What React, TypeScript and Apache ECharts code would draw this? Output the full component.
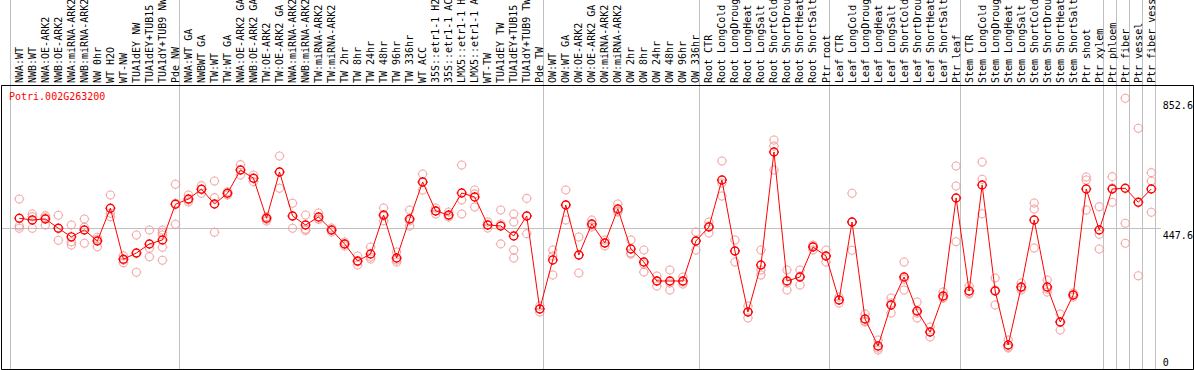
import React, { useEffect, useRef } from 'react';
import * as echarts from 'echarts';

const chartTitle = 'Potri.002G263200';

const categories = [
  'NWA:WT', 'NWB:WT', 'NWA:OE-ARK2', 'NWB:OE-ARK2', 'NWA:miRNA-ARK2', 'NWB:miRNA-ARK2', 'NW 0hr', 'WT H2O', 'WT-NW',
  'TUA1dEY NW', 'TUA1dEY+TUB15 NW', 'TUA1dY+TUB9 NW', 'Pde NW',
  'NWA:WT GA', 'NWBWT GA', 'TW:WT', 'TW:WT GA', 'NWA:OE-ARK2 GA', 'NWB:OE-ARK2 GA', 'TW:OE-ARK2', 'TW:OE-ARK2 GA',
  'NWA:miRNA-ARK2 GA', 'NWB:miRNA-ARK2 GA', 'TW:miRNA-ARK2', 'TW:miRNA-ARK2 GA', 'TW 2hr', 'TW 8hr', 'TW 24hr',
  'TW 48hr', 'TW 96hr', 'TW 336hr', 'WT ACC', '35S::etr1-1 H2O', '35S::etr1-1 ACC', 'LMX5::etr1-1 H2O',
  'LMX5::etr1-1 ACC', 'WT-TW', 'TUA1dEY TW', 'TUA1dEY+TUB15 TW', 'TUA1dY+TUB9 TW', 'Pde TW',
  'OW:WT', 'OW:WT GA', 'OW:OE-ARK2', 'OW:OE-ARK2 GA', 'OW:miRNA-ARK2', 'OW:miRNA-ARK2 GA', 'OW 2hr', 'OW 8hr',
  'OW 24hr', 'OW 48hr', 'OW 96hr', 'OW 336hr',
  'Root CTR', 'Root LongCold', 'Root LongDrought', 'Root LongHeat', 'Root LongSalt', 'Root ShortCold',
  'Root ShortDrought', 'Root ShortHeat', 'Root ShortSalt', 'Ptr root',
  'Leaf CTR', 'Leaf LongCold', 'Leaf LongDrought', 'Leaf LongHeat', 'Leaf LongSalt', 'Leaf ShortCold',
  'Leaf ShortDrought', 'Leaf ShortHeat', 'Leaf ShortSalt', 'Ptr leaf',
  'Stem CTR', 'Stem LongCold', 'Stem LongDrought', 'Stem LongHeat', 'Stem LongSalt', 'Stem ShortCold',
  'Stem ShortDrought', 'Stem ShortHeat', 'Stem ShortSalt', 'Ptr shoot', 'Ptr xylem',
  'Ptr phloem', 'Ptr fiber', 'Ptr vessel', 'Ptr fiber vessel',
];

// indices of categories that start a new group (a grey divider is drawn on their left edge)
const groupStarts = [0, 13, 41, 53, 63, 73, 84, 85, 86, 87];

const means = [
  478.0, 472.7, 475.8, 446.8, 420.0, 441.5, 407.1, 509.2, 350.0, 369.7, 397.8, 410.2, 521.7,
  538.2, 568.5, 522.6, 556.0, 628.8, 602.9, 478.0, 622.5, 485.2, 457.0, 482.0, 441.5, 397.8, 344.7, 366.5,
  488.3, 354.0, 475.8, 591.3, 500.8, 488.3, 557.0, 544.5, 457.1, 454.0, 422.7, 485.2, 194.8,
  347.8, 519.5, 363.4, 460.2, 400.9, 507.0, 382.1, 341.6, 282.2, 282.2, 282.2, 407.1,
  450.8, 597.6, 375.9, 185.5, 332.2, 685.0, 282.2, 294.7, 388.4, 360.3,
  222.9, 466.4, 163.6, 79.3, 207.3, 294.7, 188.6, 123.0, 235.4, 541.4,
  251.0, 582.0, 251.0, 82.4, 263.5, 472.7, 263.5, 154.2, 238.5, 569.5, 441.5,
  569.5, 571.6, 527.9, 569.5,
];

const replicates: number[][] = [
  [538.2, 454.0, 446.8], [491.4, 483.0, 446.8], [486.1, 479.9, 457.1], [487.3, 446.8, 409.3],
  [457.1, 404.9, 394.6], [475.8, 449.9, 399.9], [418.7, 412.4, 389.3], [550.7, 493.6, 483.0],
  [361.2, 347.8, 339.4], [425.8, 368.7, 309.4], [441.5, 384.3, 358.1], [441.5, 433.0, 425.8, 387.5, 346.9],
  [584.1, 524.8, 459.3],
  [550.7, 535.1, 528.9], [579.8, 568.5, 556.0], [594.4, 542.3, 434.3], [561.0, 556.0, 550.7],
  [645.3, 628.8, 613.2], [613.2, 602.9, 592.3], [483.0, 474.9, 469.6], [672.5, 622.5, 571.6],
  [524.8, 485.2, 446.8], [488.3, 444.0, 440.0], [494.5, 475.8, 475.0], [447.7, 441.0, 435.2],
  [404.0, 398.0, 391.5], [360.3, 342.0, 332.2], [388.4, 357.2, 350.9], [510.1, 485.0, 470.0],
  [372.8, 348.0, 341.6], [503.9, 470.0, 454.0], [616.3, 591.0, 566.3], [510.1, 501.0, 491.4],
  [497.7, 486.0, 482.0], [644.4, 535.0, 491.4], [566.3, 554.0, 513.3], [466.4, 457.0, 447.7],
  [503.9, 460.2, 398.0], [491.4, 466.4, 379.0, 354.0], [540.0, 485.0, 430.0], [204.2, 195.0, 185.5],
  [379.0, 360.3, 301.0], [566.3, 520.0, 472.7], [419.6, 363.4, 307.0], [472.7, 457.0, 450.8],
  [410.2, 401.0, 391.5], [522.6, 501.0, 497.7], [410.2, 369.7, 366.5], [379.0, 335.3, 310.0],
  [298.0, 282.0, 266.6], [316.6, 276.0, 254.0], [294.7, 279.0, 272.9], [435.2, 407.0, 379.0],
  [466.4, 454.0, 432.1], [656.9, 588.0, 547.6], [410.2, 376.0, 341.6], [204.2, 185.5, 166.7],
  [379.0, 316.6, 301.0], [722.4, 703.7, 628.8], [316.6, 276.0, 254.1], [316.6, 297.8, 269.7],
  [394.6, 391.5, 379.0], [379.0, 360.0, 341.6],
  [232.3, 222.9, 213.5], [556.0, 466.0, 378.0], [179.2, 157.4, 154.2], [98.0, 73.0, 66.9],
  [229.2, 213.5, 182.3], [341.6, 288.0, 254.1], [216.7, 182.0, 166.7], [138.6, 123.0, 107.4],
  [247.9, 229.5, 229.2], [641.2, 578.8, 404.9],
  [266.6, 244.8, 241.7], [653.8, 600.0, 492.0], [291.6, 254.0, 207.3], [98.0, 76.0, 73.1],
  [276.0, 260.4, 254.1], [525.8, 507.0, 385.3], [285.4, 257.0, 247.9], [179.2, 154.0, 129.3],
  [244.8, 238.5, 232.3], [606.9, 597.6, 504.0], [514.2, 428.0, 382.1],
  [607.9, 572.6, 527.9], [852.6, 462.4, 399.9], [758.9, 527.0, 298.8], [620.4, 594.4, 496.7],
];

const yTickValues = [0, 447.6, 852.6];
const midLineValue = 447.6;
const yMax = 894;

const MONO = 'DejaVu Sans Mono';
// circle (radius 4, drawn with cubic beziers) plus four tiny ticks
const MARKER =
  'path://M6,1L6,2M6,10L6,11M1,6L2,6M10,6L11,6' +
  'M10,6C10,8.209 8.209,10 6,10C3.791,10 2,8.209 2,6C2,3.791 3.791,2 6,2C8.209,2 10,3.791 10,6Z';

export default function App() {
  const ref = useRef<HTMLDivElement>(null);

  useEffect(() => {
    const chart = echarts.init(ref.current as HTMLDivElement, null, { renderer: 'svg' });
    const repData: number[][] = [];
    replicates.forEach((reps, i) => reps.forEach((v) => repData.push([i, v])));

    chart.setOption({
      animation: false,
      backgroundColor: '#ffffff',
      title: {
        text: chartTitle,
        left: 9,
        top: 91,
        padding: 0,
        textStyle: { color: '#ff0000', fontSize: 10, fontFamily: MONO, fontWeight: 'normal' },
      },
      grid: [
        { left: 12.8, top: 85, width: 1145, height: 286.4, containLabel: false, outerBoundsMode: 'none' },
        { left: 10, top: 0, width: 1145, height: 369, containLabel: false, outerBoundsMode: 'none' },
        { left: 1, top: 85, width: 1160, height: 286.4, containLabel: false, outerBoundsMode: 'none' },
      ],
      xAxis: [
        {
          gridIndex: 0,
          type: 'category',
          position: 'top',
          data: categories,
          boundaryGap: true,
          axisLine: { show: false },
          axisTick: { show: false },
          splitLine: { show: false },
          axisLabel: {
            interval: 0,
            rotate: 90,
            margin: 2,
            color: '#000000',
            fontFamily: MONO,
            fontSize: 10,
            hideOverlap: false,
          },
        },
        {
          gridIndex: 1,
          type: 'category',
          position: 'top',
          data: categories,
          boundaryGap: true,
          axisLine: { show: false },
          axisTick: { show: false },
          axisLabel: { show: false },
          splitLine: {
            show: true,
            interval: (idx: number) => groupStarts.indexOf(idx) >= 0,
            lineStyle: { color: '#c0c0c0', width: 1 },
          },
        },
        { gridIndex: 2, type: 'value', min: 0, max: 1, show: false },
      ],
      yAxis: [
        {
          gridIndex: 0,
          type: 'value',
          position: 'right',
          min: 0,
          max: yMax,
          axisLine: { show: false },
          axisTick: { show: false },
          splitLine: { show: false },
          axisLabel: {
            customValues: yTickValues,
            margin: 5,
            color: '#000000',
            fontFamily: MONO,
            fontSize: 10,
            formatter: (v: number) => (v === 0 ? '{b|0}' : '{t|' + v + '}'),
            rich: {
              t: { fontFamily: MONO, fontSize: 10, color: '#000', padding: [14, 0, 0, 0] },
              b: { fontFamily: MONO, fontSize: 10, color: '#000', padding: [0, 0, 17, 0] },
            },
          },
        },
        { gridIndex: 1, type: 'value', min: 0, max: 1, show: false },
        {
          gridIndex: 2,
          type: 'value',
          min: 0,
          max: yMax,
          interval: midLineValue,
          axisLine: { show: false },
          axisTick: { show: false },
          axisLabel: { show: false },
          splitLine: { show: true, lineStyle: { color: '#c0c0c0', width: 1 } },
        },
      ],
      graphic: [
        {
          type: 'rect',
          z: 100,
          silent: true,
          shape: { x: 1.5, y: 85.5, width: 1192, height: 284 },
          style: { fill: 'none', stroke: '#000000', lineWidth: 1 },
        },
      ],
      series: [
        {
          type: 'scatter',
          xAxisIndex: 0,
          yAxisIndex: 0,
          data: repData,
          symbol: MARKER,
          symbolSize: 10,
          silent: true,
          z: 2,
          itemStyle: { color: 'transparent', borderColor: '#f09595', borderWidth: 1.1 },
          emphasis: { disabled: true },
        },
        {
          type: 'line',
          xAxisIndex: 0,
          yAxisIndex: 0,
          data: means,
          symbol: MARKER,
          symbolSize: 10,
          showAllSymbol: true,
          silent: true,
          z: 3,
          lineStyle: { color: '#ff0000', width: 1 },
          itemStyle: { color: 'transparent', borderColor: '#ff0000', borderWidth: 1.4 },
          emphasis: { disabled: true },
        },
      ],
    });

    return () => chart.dispose();
  }, []);

  return (
    <div
      ref={ref}
      style={{ position: 'absolute', left: 0, top: 0, width: 1194, height: 370, overflow: 'hidden' }}
    />
  );
}
